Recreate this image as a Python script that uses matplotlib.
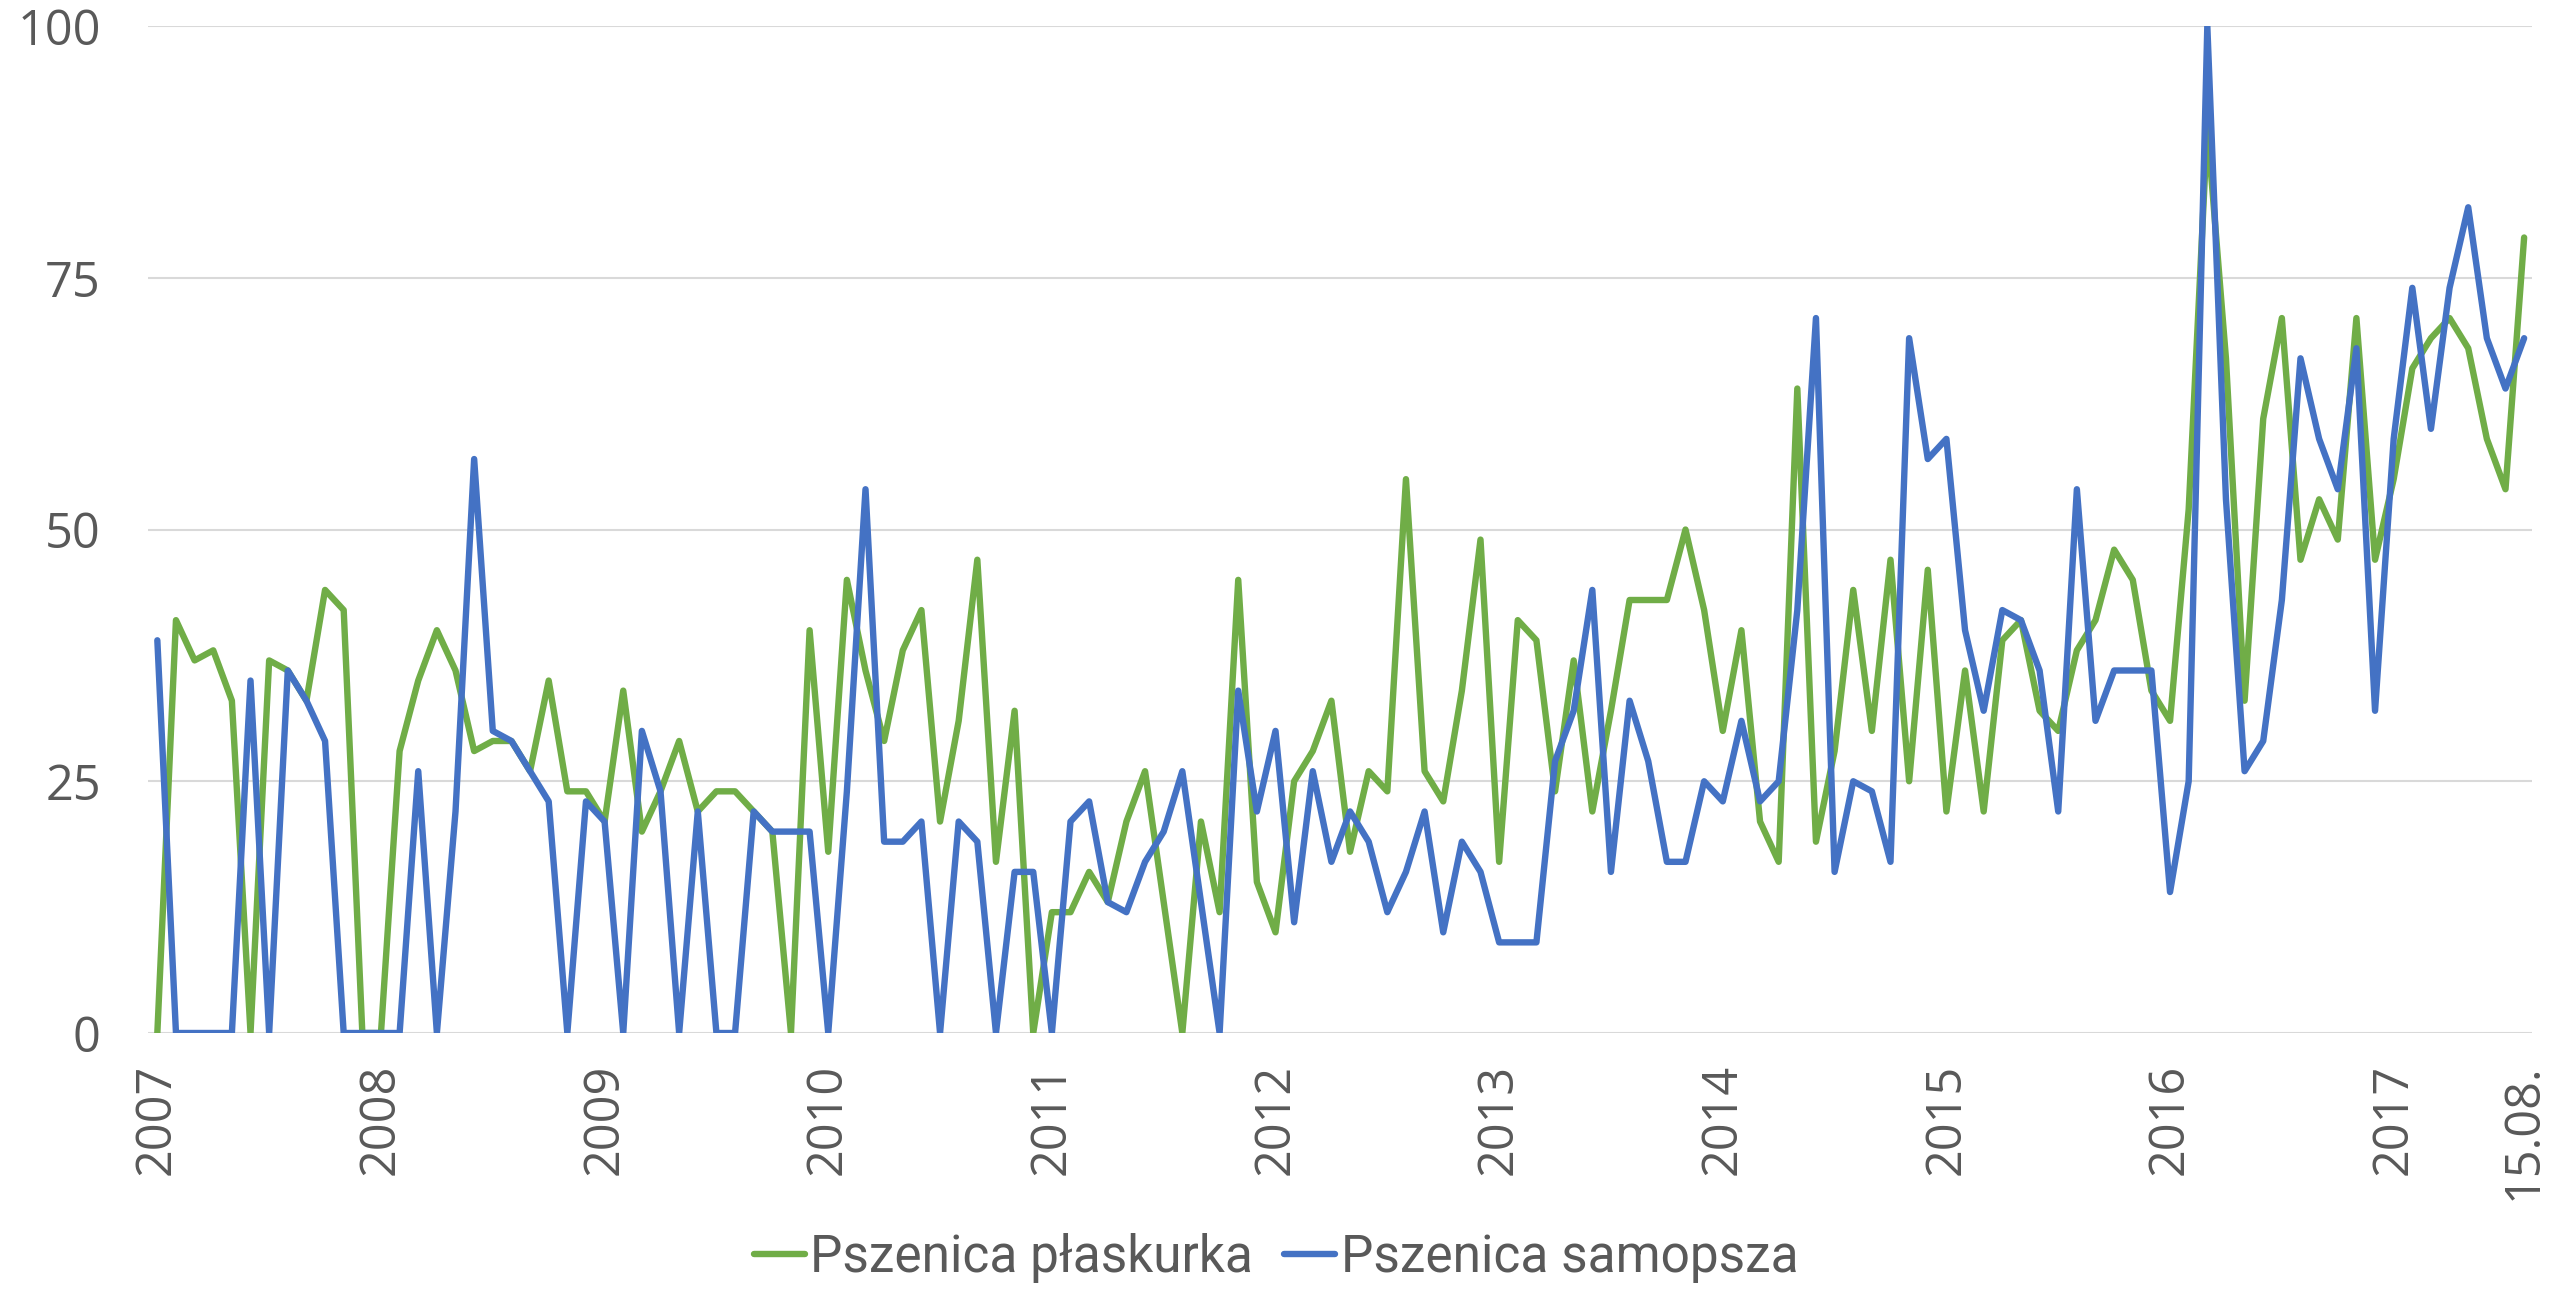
import matplotlib
matplotlib.use('Agg')
import matplotlib.pyplot as plt
import numpy as np

# monthly values, Jan 2007 .. Aug 2017
plaskurka = [0, 41, 37, 38, 33, 0, 37, 36, 33, 44, 42, 0,
             0, 28, 35, 40, 36, 28, 29, 29, 26, 35, 24, 24,
             21, 34, 20, 24, 29, 22, 24, 24, 22, 20, 0, 40,
             18, 45, 36, 29, 38, 42, 21, 31, 47, 17, 32, 0,
             12, 12, 16, 13, 21, 26, 13, 0, 21, 12, 45, 15,
             10, 25, 28, 33, 18, 26, 24, 55, 26, 23, 34, 49,
             17, 41, 39, 24, 37, 22, 32, 43, 43, 43, 50, 42,
             30, 40, 21, 17, 64, 19, 28, 44, 30, 47, 25, 46,
             22, 36, 22, 39, 41, 32, 30, 38, 41, 48, 45, 34,
             31, 52, 90, 67, 33, 61, 71, 47, 53, 49, 71, 47,
             55, 66, 69, 71, 68, 59, 54, 79]
samopsza = [39, 0, 0, 0, 0, 35, 0, 36, 33, 29, 0, 0,
            0, 0, 26, 0, 22, 57, 30, 29, 26, 23, 0, 23,
            21, 0, 30, 24, 0, 22, 0, 0, 22, 20, 20, 20,
            0, 24, 54, 19, 19, 21, 0, 21, 19, 0, 16, 16,
            0, 21, 23, 13, 12, 17, 20, 26, 13, 0, 34, 22,
            30, 11, 26, 17, 22, 19, 12, 16, 22, 10, 19, 16,
            9, 9, 9, 27, 32, 44, 16, 33, 27, 17, 17, 25,
            23, 31, 23, 25, 42, 71, 16, 25, 24, 17, 69, 57,
            59, 40, 32, 42, 41, 36, 22, 54, 31, 36, 36, 36,
            14, 25, 100, 53, 26, 29, 43, 67, 59, 54, 68, 32,
            59, 74, 60, 74, 82, 69, 64, 69]
tick_labels = ['2007', '2008', '2009', '2010', '2011', '2012',
               '2013', '2014', '2015', '2016', '2017', '15.08.']
tick_pos = [0, 12, 24, 36, 48, 60, 72, 84, 96, 108, 120, 127]
yticks = [0, 25, 50, 75, 100]

months = np.arange(len(plaskurka))

fig = plt.figure(figsize=(25.52, 12.89), dpi=100)
ax = fig.add_axes([0.058, 0.1986, 0.934, 0.7812])

ax.plot(months, plaskurka, color='#70AD47', lw=4.6, label='Pszenica płaskurka',
        solid_joinstyle='round', solid_capstyle='round')
ax.plot(months, samopsza, color='#4472C4', lw=4.6, label='Pszenica samopsza',
        solid_joinstyle='round', solid_capstyle='round')

ax.set_xlim(-0.5, 127.4)
ax.set_ylim(0, 100)
ax.set_yticks(yticks)
ax.set_yticklabels([str(v) for v in yticks])
ax.set_xticks(tick_pos)
ax.set_xticklabels(tick_labels, rotation=90, va='top', ha='center')
ax.grid(axis='y', color='#D9D9D9', lw=1.5)
ax.set_axisbelow(True)
for s in ax.spines.values():
    s.set_visible(False)
ax.tick_params(axis='y', length=0, pad=34, labelsize=35, labelcolor='#595959')
ax.tick_params(axis='x', length=0, pad=22, labelsize=35, labelcolor='#595959')
for lab in ax.get_xticklabels() + ax.get_yticklabels():
    lab.set_family(['Open Sans', 'DejaVu Sans'])

leg = fig.legend(loc='center', bbox_to_anchor=(0.5, 0.024), ncol=2, frameon=False,
                 handlelength=1.0, handletextpad=0.1, columnspacing=0.6,
                 prop={'family': ['Roboto', 'DejaVu Sans'], 'size': 37})
for t in leg.get_texts():
    t.set_color('#595959')

fig.savefig('out.png', dpi=100)
